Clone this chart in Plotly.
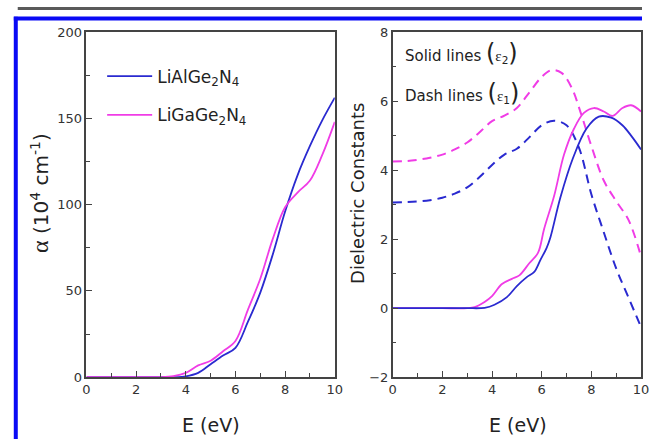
import plotly.graph_objects as go

# ---- Data: absorption coefficient (left panel) ----
E_alpha = [0, 1, 2, 3, 3.5, 4, 4.5, 5, 5.5, 6, 6.5, 7, 7.5, 8, 8.5, 9, 9.5, 10]
alpha_al = [0, 0, 0, 0, 0, 0.5, 2.5, 7.5, 12.5, 17, 32, 49, 71, 96, 117, 134, 149, 162]
alpha_ga = [0, 0, 0, 0, 0.6, 2.5, 6.8, 9.5, 15, 21, 39, 57, 80, 98.5, 107, 114, 129, 148]

# ---- Data: dielectric constants (right panel) ----
E_eps1_ga = [0, 0.5, 1, 1.5, 2, 2.5, 3, 3.5, 4, 4.5, 5, 5.5, 6, 6.4, 6.8, 7.2, 7.6, 8, 8.5, 9, 9.5, 10]
eps1_ga = [4.25, 4.26, 4.3, 4.36, 4.45, 4.6, 4.8, 5.1, 5.42, 5.58, 5.8, 6.25, 6.7, 6.9, 6.82, 6.4, 5.6, 4.7, 3.7, 3.1, 2.55, 1.5]

E_eps1_al = [0, 0.5, 1, 1.5, 2, 2.5, 3, 3.5, 4, 4.5, 5, 5.5, 6, 6.5, 7, 7.5, 8, 8.5, 9, 9.5, 10]
eps1_al = [3.06, 3.07, 3.09, 3.13, 3.2, 3.32, 3.5, 3.8, 4.15, 4.45, 4.62, 4.95, 5.3, 5.43, 5.3, 4.65, 3.3, 2.2, 1.15, 0.3, -0.55]

E_eps2_ga = [0, 1, 2, 3, 3.3, 3.7, 4, 4.4, 4.8, 5.1, 5.5, 5.85, 6.1, 6.5, 6.9, 7.3, 7.7, 8.1, 8.5, 8.85, 9.25, 9.6, 10]
eps2_ga = [0, 0, 0, 0, 0.03, 0.18, 0.35, 0.7, 0.85, 0.95, 1.3, 1.6, 2.3, 3.25, 4.45, 5.2, 5.66, 5.8, 5.7, 5.57, 5.8, 5.88, 5.7]

E_eps2_al = [0, 1, 2, 3, 3.7, 4.1, 4.6, 5, 5.4, 5.7, 5.95, 6.2, 6.35, 6.75, 7.25, 7.8, 8.3, 8.8, 9.25, 9.6, 10]
eps2_al = [0, 0, 0, 0, 0.01, 0.1, 0.32, 0.64, 0.9, 1.05, 1.4, 1.75, 2.05, 3.2, 4.33, 5.2, 5.55, 5.52, 5.3, 5.0, 4.6]

BLUE = "#2a2ad0"
MAG = "#f03ce6"
AXC = "#444444"
FONT = "DejaVu Sans"
W, H = 650, 447

fig = go.Figure()
fig.add_trace(go.Scatter(x=E_alpha, y=alpha_al, mode="lines", line=dict(color=BLUE, width=1.8, shape="spline"),
                         name="LiAlGe<sub>2</sub>N<sub>4</sub>", legend="legend", xaxis="x", yaxis="y"))
fig.add_trace(go.Scatter(x=E_alpha, y=alpha_ga, mode="lines", line=dict(color=MAG, width=1.8, shape="spline"),
                         name="LiGaGe<sub>2</sub>N<sub>4</sub>", legend="legend2", xaxis="x", yaxis="y"))

fig.add_trace(go.Scatter(x=E_eps1_ga, y=eps1_ga, mode="lines", line=dict(color=MAG, width=2, dash="9px,6px", shape="spline"),
                         showlegend=False, xaxis="x2", yaxis="y2"))
fig.add_trace(go.Scatter(x=E_eps1_al, y=eps1_al, mode="lines", line=dict(color=BLUE, width=2, dash="9px,6px", shape="spline"),
                         showlegend=False, xaxis="x2", yaxis="y2"))
fig.add_trace(go.Scatter(x=E_eps2_ga, y=eps2_ga, mode="lines", line=dict(color=MAG, width=1.8, shape="spline"),
                         showlegend=False, xaxis="x2", yaxis="y2"))
fig.add_trace(go.Scatter(x=E_eps2_al, y=eps2_al, mode="lines", line=dict(color=BLUE, width=1.8, shape="spline"),
                         showlegend=False, xaxis="x2", yaxis="y2"))

ydom = [1 - 383 / H, 1 - 26 / H]
common = dict(showgrid=False, zeroline=False, showline=True, linecolor=AXC, linewidth=1.5, mirror=True,
              ticks="inside", ticklen=6, tickwidth=1.3, tickcolor=AXC,
              tickfont=dict(family=FONT, size=13, color="#333333"))

fig.update_layout(
    width=W, height=H, margin=dict(l=0, r=0, t=0, b=0),
    paper_bgcolor="white", plot_bgcolor="white",
    xaxis=dict(domain=[84 / W, 337 / W], range=[0, 10], dtick=2, anchor="y",
               minor=dict(dtick=1, ticks="inside", ticklen=4, tickcolor=AXC), **common),
    yaxis=dict(domain=ydom, range=[0, 200], dtick=50, anchor="x",
               minor=dict(dtick=25, ticks="inside", ticklen=4, tickcolor=AXC), **common),
    xaxis2=dict(domain=[396 / W, 649 / W], range=[0, 10], dtick=2, anchor="y2",
                minor=dict(dtick=1, ticks="inside", ticklen=4, tickcolor=AXC), **common),
    yaxis2=dict(domain=ydom, range=[-2, 8], dtick=2, anchor="x2",
                minor=dict(dtick=1, ticks="inside", ticklen=4, tickcolor=AXC), **common),
    legend=dict(x=100 / W, y=1 - 72 / H, xanchor="left", yanchor="middle", bgcolor="rgba(0,0,0,0)",
                font=dict(family=FONT, size=17, color="#222222"), itemwidth=45),
    legend2=dict(x=100 / W, y=1 - 112 / H, xanchor="left", yanchor="middle", bgcolor="rgba(0,0,0,0)",
                 font=dict(family=FONT, size=17, color="#222222"), itemwidth=45),
    showlegend=True,
)

big = '<span style="font-size:24px">'
annotations = [
    dict(x=36 / W, y=1 - 192 / H,
         text='<span style="font-family:Liberation Serif;font-size:24px">α</span> (10<sup>4</sup> cm<sup>-1</sup>)',
         textangle=-90, font=dict(family=FONT, size=20, color="#222222")),
    dict(x=360 / W, y=1 - 193 / H, text="Dielectric Constants",
         textangle=-90, font=dict(family=FONT, size=18, color="#222222")),
    dict(x=211 / W, y=1 - 433 / H, text="E (eV)", font=dict(family=FONT, size=19, color="#222222")),
    dict(x=524 / W, y=1 - 433 / H, text="E (eV)", font=dict(family=FONT, size=19, color="#222222")),
    dict(x=406 / W, y=1 - 48 / H, xanchor="left",
         text='Solid lines ' + big + '(</span><span style="font-family:Liberation Serif">ε</span><sub>2</sub>' + big + ')</span>',
         font=dict(family=FONT, size=15, color="#222222")),
    dict(x=406 / W, y=1 - 89 / H, xanchor="left",
         text='Dash lines ' + big + '(</span><span style="font-family:Liberation Serif">ε</span><sub>1</sub>' + big + ')</span>',
         font=dict(family=FONT, size=15, color="#222222")),
]
for a in annotations:
    a.update(xref="paper", yref="paper", showarrow=False)
    a.setdefault("xanchor", "center")
    a.setdefault("yanchor", "middle")
fig.update_layout(annotations=annotations)

# frame decorations (page border)
fig.add_shape(type="rect", xref="paper", yref="paper", x0=14 / W, x1=1, y0=1, y1=1 - 3 / H,
              fillcolor="#5a5a5a", line_width=0, layer="above")
fig.add_shape(type="line", xref="paper", yref="paper", x0=10 / W, x1=1, y0=1 - 12 / H, y1=1 - 12 / H,
              line=dict(color="#0a0af5", width=4), layer="above")
fig.add_shape(type="line", xref="paper", yref="paper", x0=12 / W, x1=12 / W, y0=1 - 10 / H, y1=0,
              line=dict(color="#0a0af5", width=4), layer="above")

fig.write_html("out.html")
